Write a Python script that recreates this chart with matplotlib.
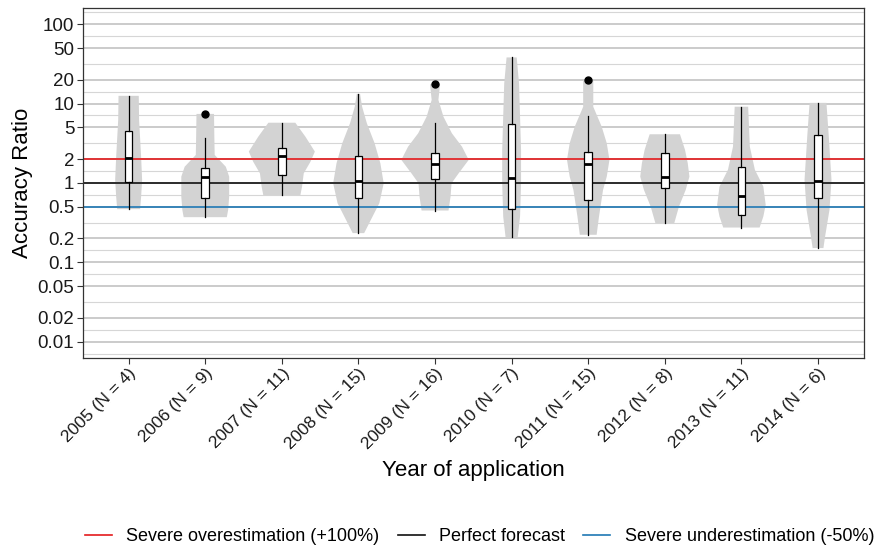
import numpy as np
import matplotlib
matplotlib.use("Agg")
import matplotlib.pyplot as plt
from matplotlib.ticker import FixedLocator, NullFormatter

plt.rcParams['font.family'] = ['Liberation Sans', 'DejaVu Sans']

# accuracy ratio (forecast / actual) per year of application
years = [2005, 2006, 2007, 2008, 2009, 2010, 2011, 2012, 2013, 2014]
counts = [4, 9, 11, 15, 16, 7, 15, 8, 11, 6]

whislo = [0.467, 0.37, 0.70, 0.233, 0.449, 0.207, 0.222, 0.311, 0.274, 0.151]
q1 = [1.02, 0.641, 1.24, 0.64, 1.11, 0.467, 0.611, 0.857, 0.396, 0.641]
med = [2.08, 1.20, 2.19, 1.05, 1.73, 1.15, 1.73, 1.18, 0.686, 1.06]
q3 = [4.47, 1.56, 2.78, 2.19, 2.36, 5.52, 2.43, 2.41, 1.60, 3.98]
whishi = [12.5, 3.71, 5.73, 13.2, 5.63, 38.1, 6.96, 4.10, 9.12, 10.2]
outliers = [[], [7.38], [], [], [17.5], [], [19.8], [], [], []]

# violin outlines: (ratio, relative density) from top to bottom
violin_2005 = [(12.5, 0.30), (6.2, 0.31), (2.14, 0.37), (1.09, 0.40), (0.67, 0.37), (0.467, 0.34)]
violin_2006 = [(7.4, 0.26), (3.82, 0.27), (2.25, 0.28), (1.60, 0.61), (1.20, 0.71),
               (0.67, 0.71), (0.457, 0.68), (0.37, 0.64)]
violin_2007 = [(5.73, 0.40), (3.82, 0.70), (2.48, 0.98), (1.85, 0.85), (1.32, 0.65),
               (0.90, 0.60), (0.70, 0.55)]
violin_2008 = [(13.2, 0.05), (9.1, 0.11), (5.64, 0.25), (3.16, 0.48), (1.77, 0.65),
               (0.99, 0.75), (0.555, 0.62), (0.343, 0.37), (0.233, 0.17)]
violin_2009 = [(17.5, 0.15), (11.1, 0.10), (6.82, 0.25), (4.22, 0.50), (2.86, 0.80),
               (1.95, 1.00), (1.32, 0.70), (0.99, 0.49), (0.67, 0.46), (0.449, 0.40)]
violin_2010 = [(38.1, 0.15), (17.9, 0.22), (6.82, 0.25), (2.60, 0.28), (0.99, 0.28),
               (0.377, 0.25), (0.207, 0.18)]
violin_2011 = [(19.8, 0.15), (9.1, 0.15), (5.11, 0.40), (3.16, 0.55), (1.95, 0.63),
               (1.20, 0.55), (0.817, 0.44), (0.377, 0.32), (0.222, 0.25)]
violin_2012 = [(4.10, 0.45), (2.60, 0.60), (1.77, 0.68), (1.20, 0.73), (0.817, 0.62),
               (0.503, 0.42), (0.311, 0.28)]
violin_2013 = [(9.12, 0.20), (2.86, 0.25), (1.46, 0.40), (0.90, 0.65), (0.529, 0.72),
               (0.377, 0.65), (0.274, 0.54)]
violin_2014 = [(10.2, 0.25), (3.82, 0.32), (1.09, 0.40), (0.457, 0.34), (0.211, 0.21),
               (0.151, 0.16)]
violins = [violin_2005, violin_2006, violin_2007, violin_2008, violin_2009,
           violin_2010, violin_2011, violin_2012, violin_2013, violin_2014]

ref_values = [2, 1, 0.5]
ref_labels = ['Severe overestimation (+100%)', 'Perfect forecast', 'Severe underestimation (-50%)']
ref_colors = ['#E41A1C', '#111111', '#1F78B4']

y_breaks = [0.01, 0.02, 0.05, 0.1, 0.2, 0.5, 1, 2, 5, 10, 20, 50, 100]
y_labels = ['0.01', '0.02', '0.05', '0.1', '0.2', '0.5', '1', '2', '5', '10', '20', '50', '100']

positions = np.arange(1, len(years) + 1)
xlabels = [f'{y} (N = {n})' for y, n in zip(years, counts)]

fig = plt.figure(figsize=(8.75, 5.45), dpi=100)
ax = fig.add_axes([0.0945, 0.344, 0.8929, 0.6408])
ax.set_yscale('log')

# violins
vpstats = []
for v in violins:
    coords = np.array([p[0] for p in v])
    vals = np.array([p[1] for p in v])
    vpstats.append(dict(coords=coords, vals=vals, mean=np.median(coords),
                        median=np.median(coords), min=coords.min(), max=coords.max()))
vwidths = [0.88 * max(p[1] for p in v) for v in violins]
parts = ax.violin(vpstats, positions=positions, widths=vwidths,
                  showmeans=False, showextrema=False, showmedians=False)
for body in parts['bodies']:
    body.set_facecolor('#D3D3D3')
    body.set_edgecolor('none')
    body.set_alpha(1)
    body.set_zorder(1)

# reference lines
for val, lab, col in zip(ref_values, ref_labels, ref_colors):
    ax.axhline(val, color=col, lw=1.2, zorder=2, label=lab)

# box plots
bstats = []
for i in range(len(years)):
    bstats.append(dict(whislo=whislo[i], q1=q1[i], med=med[i], q3=q3[i],
                       whishi=whishi[i], fliers=outliers[i]))
ax.bxp(bstats, positions=positions, widths=0.1, patch_artist=True, showcaps=False,
       boxprops=dict(facecolor='white', edgecolor='black', lw=0.9),
       medianprops=dict(color='black', lw=2),
       whiskerprops=dict(color='black', lw=0.9),
       flierprops=dict(marker='o', markerfacecolor='black', markeredgecolor='black',
                       markersize=5),
       zorder=3)

# axes, ticks and grid
ax.set_xlim(0.4, len(years) + 0.6)
ax.set_ylim(10 ** -2.2, 10 ** 2.2)
ax.set_xticks(positions)
ax.set_xticklabels(xlabels, rotation=45, ha='right', rotation_mode='anchor', fontsize=12.5,
                   color='#1a1a1a')
ax.set_yticks(y_breaks)
ax.set_yticklabels(y_labels, fontsize=13.5, color='#1a1a1a')
ext = [0.005] + y_breaks + [200]
mids = [np.sqrt(a * b) for a, b in zip(ext[:-1], ext[1:])]
ax.yaxis.set_minor_locator(FixedLocator(mids))
ax.yaxis.set_minor_formatter(NullFormatter())
ax.tick_params(axis='both', which='major', length=4, width=0.8, color='#333333', pad=2)
ax.tick_params(axis='y', which='minor', length=0)
ax.set_axisbelow(True)
ax.grid(axis='y', which='major', color='#BDBDBD', lw=1.1, zorder=0)
ax.grid(axis='y', which='minor', color='#D6D6D6', lw=0.8, zorder=0)
ax.grid(axis='x', visible=False)
for s in ax.spines.values():
    s.set_color('#333333')
    s.set_linewidth(0.9)

ax.set_ylabel('Accuracy Ratio', fontsize=16, labelpad=3)
ax.set_xlabel('Year of application', fontsize=16, labelpad=6)

handles, labels = ax.get_legend_handles_labels()
fig.legend(handles, labels, loc='center', bbox_to_anchor=(0.548, 0.015), ncol=3,
           frameon=False, fontsize=13, handlelength=1.5, handletextpad=0.8,
           columnspacing=1.0)

fig.savefig('out.png', dpi=100)
